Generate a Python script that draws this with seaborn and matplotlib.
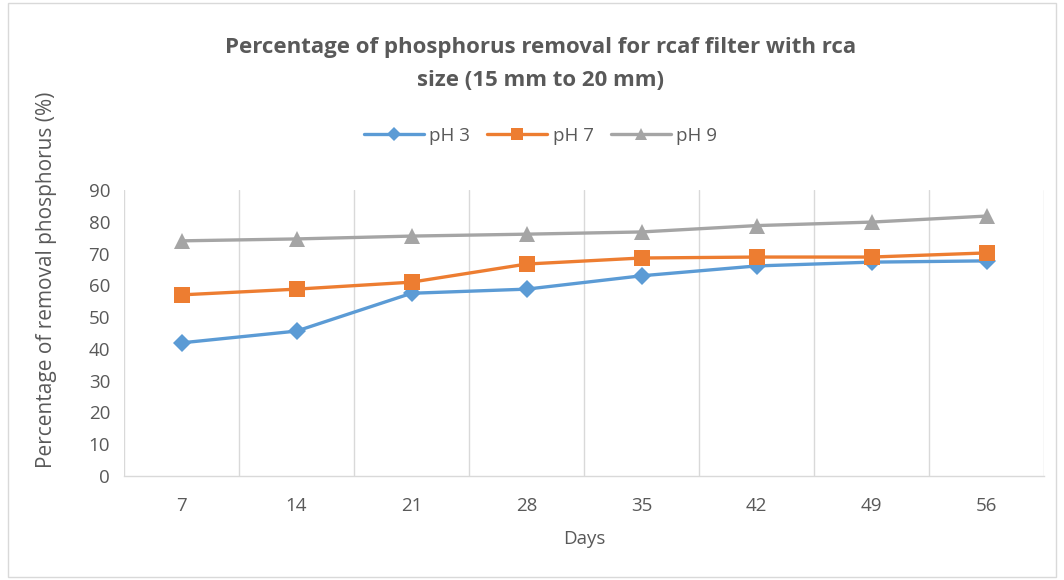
import matplotlib
matplotlib.use("Agg")
import matplotlib.pyplot as plt
import seaborn as sns
import pandas as pd
from matplotlib.patches import Rectangle

days = ["7", "14", "21", "28", "35", "42", "49", "56"]
ph3 = [41.9, 45.6, 57.5, 58.8, 63.0, 66.1, 67.3, 67.7]
ph7 = [57.0, 58.8, 61.0, 66.7, 68.6, 68.9, 68.9, 70.2]
ph9 = [74.0, 74.6, 75.5, 76.1, 76.8, 78.8, 79.9, 81.8]
series_names = ["pH 3", "pH 7", "pH 9"]

sns.set_theme(style="white")
plt.rcParams['font.family'] = ['Open Sans', 'DejaVu Sans']

rows = []
for name, vals in zip(series_names, [ph3, ph7, ph9]):
    for i, v in enumerate(vals):
        rows.append({"idx": i, "value": v, "series": name})
df = pd.DataFrame(rows)

fig = plt.figure(figsize=(10.64, 5.8), dpi=100)
ax = fig.add_axes([124/1064, 1-476/580, (1044-124)/1064, (476-190)/580])

palette = {"pH 3": "#5B9BD5", "pH 7": "#ED7D31", "pH 9": "#A5A5A5"}
markers = {"pH 3": "D", "pH 7": "s", "pH 9": "^"}
sizes_m = {"pH 3": 9, "pH 7": 11, "pH 9": 11}

for name in series_names:
    sub = df[df.series == name]
    sns.lineplot(data=sub, x="idx", y="value", ax=ax, color=palette[name],
                 marker=markers[name], markersize=sizes_m[name], markeredgewidth=0,
                 linewidth=2.4, label=name, zorder=3)

ax.set_xlim(-0.5, len(days) - 0.5)
ax.set_ylim(0, 90)
ax.set_yticks(range(0, 91, 10))
ax.set_xticks(range(len(days)))
ax.set_xticklabels(days)
for b in [i + 0.5 for i in range(-1, len(days))]:
    ax.axvline(b, color="#d9d9d9", linewidth=1, zorder=1)
for s in ["top", "right", "left"]:
    ax.spines[s].set_visible(False)
ax.spines["bottom"].set_color("#d9d9d9")
ax.spines["bottom"].set_linewidth(1)
ax.tick_params(axis="both", length=0, labelsize=13.5, colors="#595959")
ax.tick_params(axis="y", pad=10)
ax.tick_params(axis="x", pad=15)
ax.set_xlabel("Days", fontsize=13.5, color="#595959", labelpad=11)
ax.set_ylabel("Percentage of removal phosphorus (%)", fontsize=15, color="#595959")
ax.yaxis.set_label_coords((57-124)/920, (476-280)/286)

fig.text(0.508, 1-48/580, "Percentage of phosphorus removal for rcaf filter with rca",
         ha="center", va="center", fontsize=16, fontweight="bold", color="#595959")
fig.text(0.508, 1-81/580, "size (15 mm to 20 mm)",
         ha="center", va="center", fontsize=16, fontweight="bold", color="#595959")

ax.get_legend().remove()
handles, labels = ax.get_legend_handles_labels()
fig.legend(handles, labels, loc="center", bbox_to_anchor=(0.508, 1-136/580), ncol=3,
           frameon=False, fontsize=13.5, labelcolor="#595959", handlelength=3.2,
           columnspacing=0.9, handletextpad=0.3, markerscale=0.8)

fig.patches.append(Rectangle((8/1064, 0.005), 1-16/1064, 0.99, transform=fig.transFigure,
                             fill=False, edgecolor="#d9d9d9", linewidth=1))

fig.savefig("out.png", dpi=100)
